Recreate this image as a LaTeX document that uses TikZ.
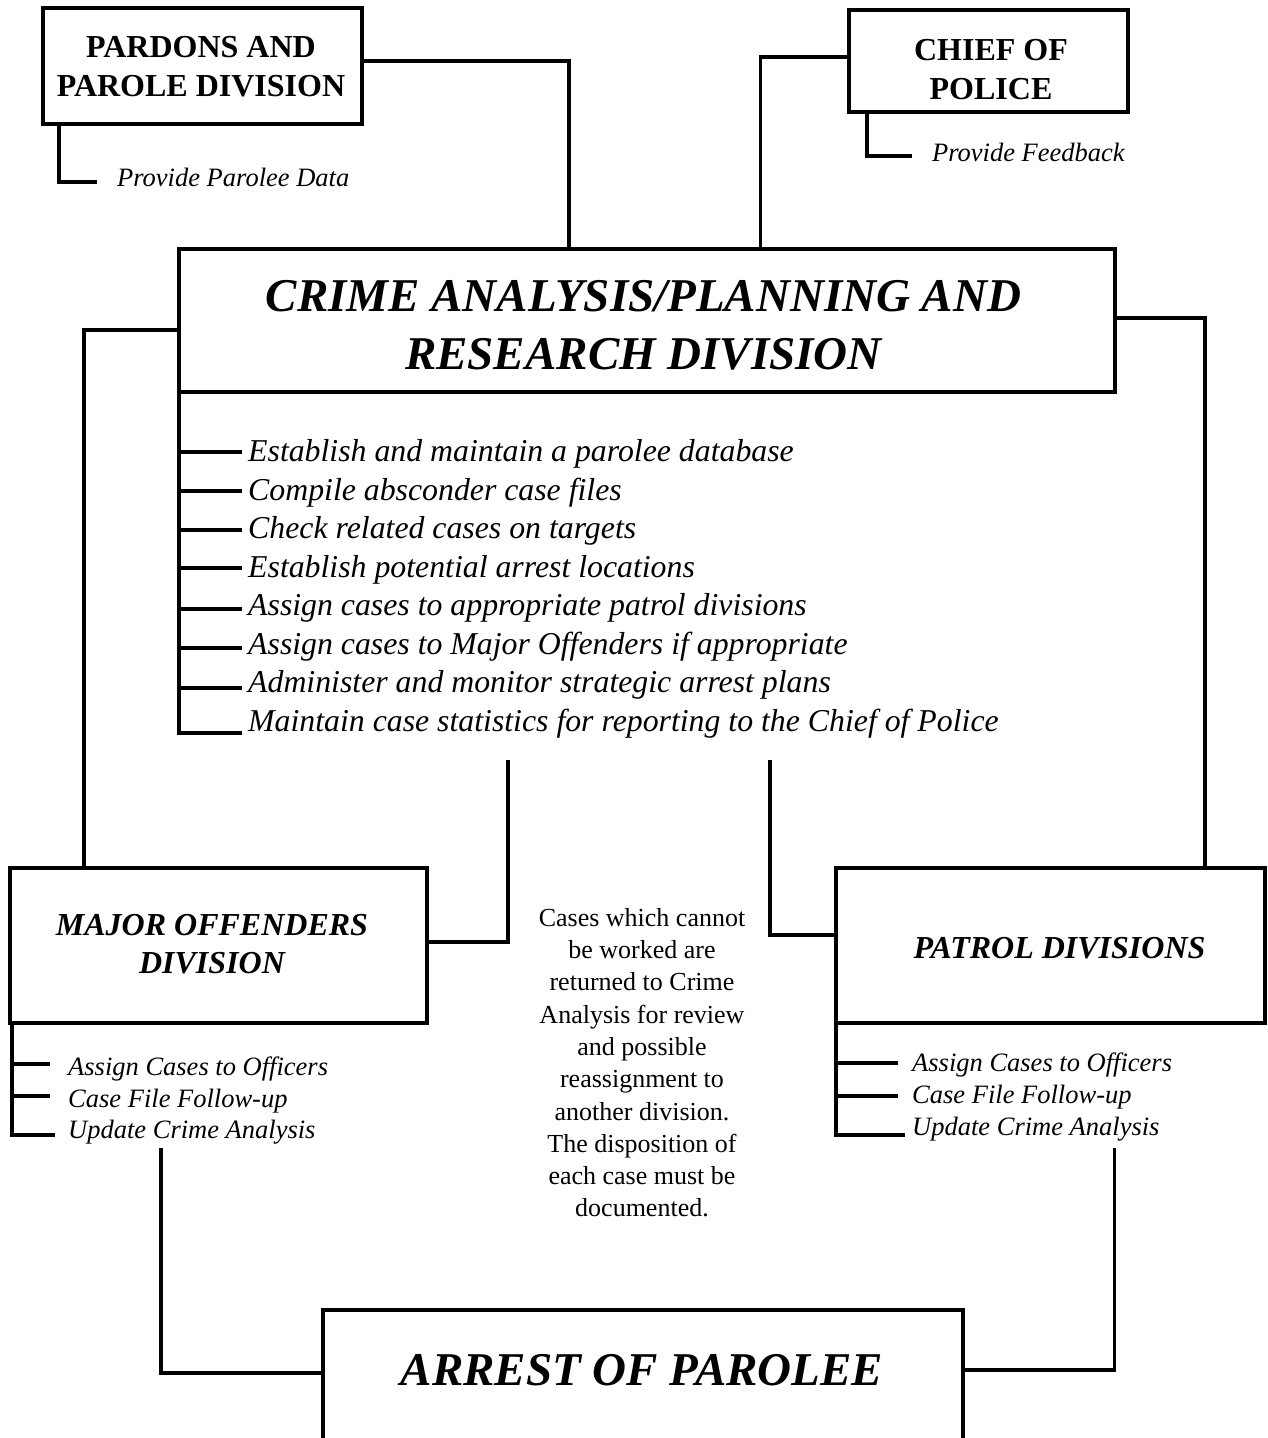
\documentclass[tikz,border=0pt]{standalone}
\usepackage{fontspec}
\setmainfont{Liberation Serif}
\begin{document}
\begin{tikzpicture}[x=1pt,y=-1pt,
  box/.style={draw, line width=4pt, inner sep=0pt},
  conn/.style={line width=3.6pt},
  tick/.style={line width=3.2pt},
  hb/.style={inner sep=0pt, anchor=base, font=\fontsize{32}{39}\selectfont\bfseries},
  bigt/.style={inner sep=0pt, anchor=base, font=\fontsize{47}{58}\selectfont\bfseries\itshape},
  bit/.style={inner sep=0pt, anchor=base, font=\fontsize{32}{39}\selectfont\bfseries\itshape},
  li/.style={inner sep=0pt, anchor=base west, font=\fontsize{31.8}{38}\selectfont\itshape},
  si/.style={inner sep=0pt, anchor=base west, font=\fontsize{26.5}{32}\selectfont\itshape},
  midt/.style={inner sep=0pt, anchor=north, align=center, font=\fontsize{26}{32.3}\selectfont}
]
\path[use as bounding box, fill=white] (0,0) rectangle (1267,1438);

% boxes
\node[box, minimum width=319pt, minimum height=116pt] (pardons) at (202,66) {};
\node[box, minimum width=279.5pt, minimum height=102pt] (chief) at (988.25,61) {};
\node[box, minimum width=936pt, minimum height=143pt] (crime) at (647,320.5) {};
\node[box, minimum width=417pt, minimum height=155pt] (major) at (218.5,945.5) {};
\node[box, minimum width=429pt, minimum height=155pt] (patrol) at (1050.5,945.5) {};
\node[box, minimum width=640pt, minimum height=130pt] (arrest) at (643,1375) {};

% box texts
\node[hb] (pardonsA) at (201,57.5) {PARDONS AND};
\node[hb] (pardonsB) at (201,96.5) {PAROLE DIVISION};
\node[hb] (chiefA) at (991,60) {CHIEF OF};
\node[hb] (chiefB) at (991,99) {POLICE};
\node[bigt] (crimeA) at (643.5,311) {CRIME ANALYSIS/PLANNING AND};
\node[bigt] (crimeB) at (643.5,369) {RESEARCH DIVISION};
\node[bit] (majorA) at (212,935) {MAJOR OFFENDERS};
\node[bit] (majorB) at (212,973) {DIVISION};
\node[bit] (patrolA) at (1059.5,958) {PATROL DIVISIONS};
\node[bigt] (arrestA) at (642,1385) {ARREST OF PAROLEE};

% main connectors
\draw[conn] (pardons.east |- 0,61) -| (569,0 |- crime.north);
\draw[conn] (chief.west |- 0,57) -| (760.5,0 |- crime.north);
\draw[conn] (crime.west |- 0,330) -| (84,0 |- major.north);
\draw[conn] (crime.east |- 0,318) -| (1205,0 |- patrol.north);
\coordinate (mtop) at (508,760);
\coordinate (ptop) at (770,760);
\draw[conn] (mtop) |- (major.east |- 0,942);
\draw[conn] (ptop) |- (patrol.west |- 0,935);
\coordinate (lbot) at (161,1148);
\coordinate (rbot) at (1114.5,1148);
\draw[conn] (lbot) |- (arrest.west |- 0,1373);
\draw[conn] (rbot) |- (arrest.east |- 0,1370);

% pardons / chief items
\coordinate (ppdend) at (97,182);
\draw[conn] (59,0 |- pardons.south) |- (ppdend);
\node[si] (ppd) at (117,186.7) {Provide Parolee Data};
\coordinate (pfend) at (912,156);
\draw[conn] (867,0 |- chief.south) |- (pfend);
\node[si] (pf) at (932,161.7) {Provide Feedback};

% crime list
\coordinate (cl8) at (242,733);
\draw[tick] (179,0 |- crime.south) |- (cl8);
\foreach \yy in {452,491,530,568,609,648,688}{
  \draw[tick] (179,\yy) -- (242,\yy);
}
\node[li] (c1) at (248,461.7) {Establish and maintain a parolee database};
\node[li] (c2) at (248,500) {Compile absconder case files};
\node[li] (c3) at (248,538.5) {Check related cases on targets};
\node[li] (c4) at (248,577) {Establish potential arrest locations};
\node[li] (c5) at (248,615.5) {Assign cases to appropriate patrol divisions};
\node[li] (c6) at (248,654) {Assign cases to Major Offenders if appropriate};
\node[li] (c7) at (248,692.5) {Administer and monitor strategic arrest plans};
\node[li] (c8) at (248,731) {Maintain case statistics for reporting to the Chief of Police};

% major list
\coordinate (ml3) at (55,1135);
\draw[tick] (12,0 |- major.south) |- (ml3);
\draw[tick] (12,1064) -- (50,1064);
\draw[tick] (12,1096) -- (50,1096);
\node[si] (m1) at (68,1075) {Assign Cases to Officers};
\node[si] (m2) at (68,1107) {Case File Follow-up};
\node[si] (m3) at (68,1138) {Update Crime Analysis};

% patrol list
\coordinate (pl3) at (905,1135);
\draw[tick] (836,0 |- patrol.south) |- (pl3);
\draw[tick] (836,1063) -- (898,1063);
\draw[tick] (836,1096) -- (898,1096);
\node[si] (p1) at (912,1071) {Assign Cases to Officers};
\node[si] (p2) at (912,1103) {Case File Follow-up};
\node[si] (p3) at (912,1135) {Update Crime Analysis};

% middle note
\node[midt] (note) at (642,908) {Cases which cannot\\be worked are\\returned to Crime\\Analysis for review\\and possible\\reassignment to\\another division.\\The disposition of\\each case must be\\documented.};
\end{tikzpicture}
\end{document}
